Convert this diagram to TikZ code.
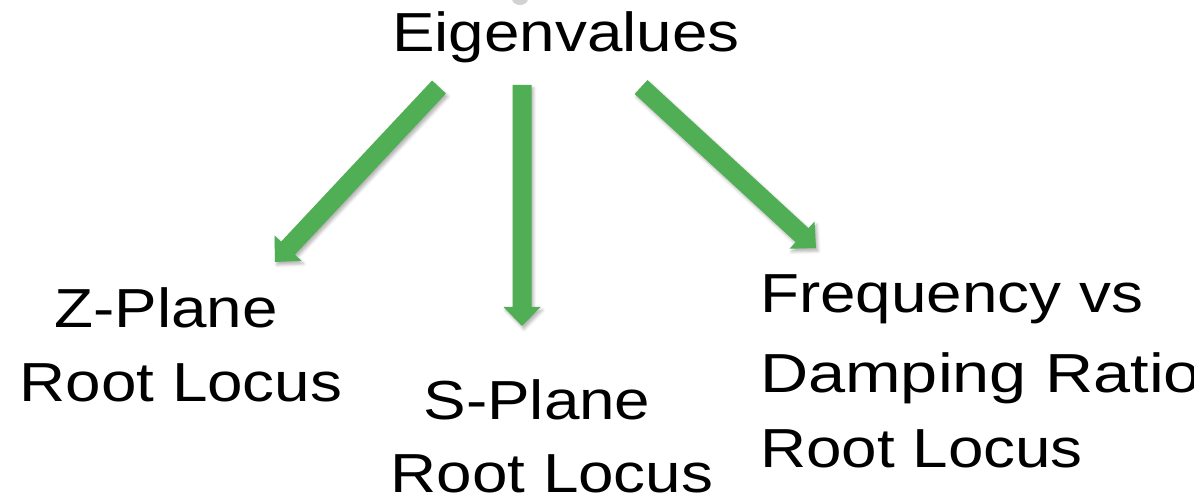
\documentclass[tikz,border=0pt]{standalone}
\usepackage{fontspec}
\setmainfont[FakeStretch=1.16]{Liberation Sans}
\usetikzlibrary{calc,shadows.blur}
\definecolor{arrowgreen}{RGB}{80,175,84}

\tikzset{
  lbl/.style={inner sep=0pt, anchor=base, font=\fontsize{55}{66}\selectfont},
  lblw/.style={lbl, anchor=base west},
  arrowbody/.style={fill=arrowgreen, draw=none,
    blur shadow={shadow xshift=2pt, shadow yshift=-3pt,
                 shadow blur radius=3pt, shadow opacity=30}}
}

% block arrow from tail #1 to tip #2: shaft 19pt, head 37pt wide, 19pt long
\newcommand{\fatarrow}[2]{%
  \coordinate (#1-base) at ($(#2)!19pt!(#1)$);
  \fill[arrowbody]
    ($(#1)!9.5pt!90:(#2)$) --
    ($(#1-base)!9.5pt!90:(#2)$) --
    ($(#1-base)!18.5pt!90:(#2)$) --
    (#2) --
    ($(#1-base)!18.5pt!-90:(#2)$) --
    ($(#1-base)!9.5pt!-90:(#2)$) --
    ($(#1)!9.5pt!-90:(#2)$) -- cycle;
}

\begin{document}
\begin{tikzpicture}[x=1pt,y=-1pt]
  \useasboundingbox (0,0) rectangle (1194,502);
  \clip (0,0) rectangle (1194,502);

  % faint mark at the top edge
  \fill[gray!35] (520,-1) ellipse (8 and 6);

  % labels
  \node[lbl] (eig) at (566,52) {Eigenvalues};

  \node[lbl] (zpl) at (166,328) {Z-Plane};
  \node[lbl] (zrl) at (181,402) {Root Locus};

  \node[lbl] (spl) at (537,420) {S-Plane};
  \node[lbl] (srl) at (552,492) {Root Locus};

  \node[lblw] (frq) at (760,313) {Frequency vs};
  \node[lblw] (dmp) at (760,392) {\scalebox{1.045}[1]{Damping Ratio}};
  \node[lblw] (frl) at (760,467) {Root Locus};

  % arrow ends
  \coordinate (zTail) at (439,87);
  \coordinate (zTip)  at (275,262);
  \coordinate (sTail) at (522,85);
  \coordinate (sTip)  at (522,326);
  \coordinate (fTail) at (641,87);
  \coordinate (fTip)  at (816,248);

  \fatarrow{zTail}{zTip}
  \fatarrow{sTail}{sTip}
  \fatarrow{fTail}{fTip}
\end{tikzpicture}
\end{document}
